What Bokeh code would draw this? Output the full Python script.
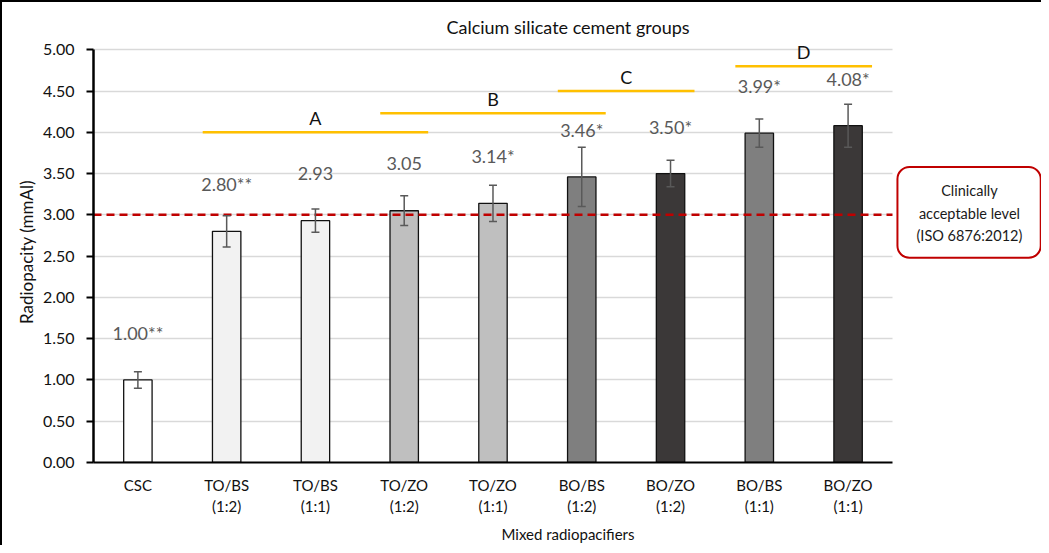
from bokeh.plotting import figure
from bokeh.models import (ColumnDataSource, Whisker, TeeHead, FixedTicker,
                          BoxAnnotation, Range1d, PrintfTickFormatter)
from bokeh.core.properties import value
from bokeh.embed import file_html
from bokeh.resources import INLINE

# ---- data ----
categories = ["CSC", "TO/BS\n(1:2)", "TO/BS\n(1:1)", "TO/ZO\n(1:2)", "TO/ZO\n(1:1)",
              "BO/BS\n(1:2)", "BO/ZO\n(1:2)", "BO/BS\n(1:1)", "BO/ZO\n(1:1)"]
values = [1.00, 2.80, 2.93, 3.05, 3.14, 3.46, 3.50, 3.99, 4.08]
errors = [0.10, 0.19, 0.14, 0.18, 0.22, 0.36, 0.16, 0.17, 0.26]
value_labels = ["1.00**", "2.80**", "2.93", "3.05", "3.14*", "3.46*", "3.50*", "3.99*", "4.08*"]
group_names = ["A", "B", "C", "D"]
group_first = [1, 3, 5, 7]
group_last = [3, 5, 6, 8]
group_level = [4.00, 4.23, 4.50, 4.80]
threshold = 3.00
y_ticks = [0, 0.5, 1.0, 1.5, 2.0, 2.5, 3.0, 3.5, 4.0, 4.5, 5.0]
callout_lines = ["Clinically", "acceptable level", "(ISO 6876:2012)"]

# ---- styles ----
bar_colors = ["#FFFFFF", "#F2F2F2", "#F2F2F2", "#BFBFBF", "#BFBFBF",
              "#7F7F7F", "#3B3838", "#7F7F7F", "#3B3838"]
FONT = "Lato"

n = len(categories)
xs = list(range(n))
src = ColumnDataSource(dict(
    x=xs, top=values, color=bar_colors, label=value_labels,
    upper=[v + e for v, e in zip(values, errors)],
    lower=[v - e for v, e in zip(values, errors)],
))

p = figure(width=1041, height=545, output_backend="svg", toolbar_location=None,
           x_range=Range1d(-0.5, 10.19), y_range=Range1d(0, 5.1),
           title="Calcium silicate cement groups",
           min_border_left=91, min_border_right=1, min_border_top=39, min_border_bottom=85)
p.styles = {"border-top": "2px solid #000", "border-left": "2px solid #000"}
p.outline_line_color = None
p.background_fill_color = "white"
p.border_fill_color = "white"

p.title.align = "center"
p.title.text_font = FONT
p.title.text_font_size = "18px"
p.title.text_font_style = "normal"
p.title.text_color = "#111111"
p.title.standoff = 8

# grid
p.xgrid.visible = False
p.ygrid.grid_line_color = "#D9D9D9"
p.ygrid.grid_line_width = 1.5
p.ygrid.ticker = FixedTicker(ticks=y_ticks)
p.ygrid.cross_bounds = (-0.5, n - 0.5)

# y axis
p.yaxis.ticker = FixedTicker(ticks=y_ticks)
p.yaxis.bounds = (0, 5)
p.yaxis.formatter = PrintfTickFormatter(format="%.2f")
p.yaxis.axis_line_width = 2.5
p.yaxis.axis_line_color = "black"
p.yaxis.major_tick_out = 7
p.yaxis.major_tick_in = 0
p.yaxis.major_tick_line_width = 2
p.yaxis.minor_tick_line_color = None
p.yaxis.major_label_text_font = FONT
p.yaxis.major_label_text_font_size = "16px"
p.yaxis.major_label_text_color = "#111111"
p.yaxis.major_label_standoff = 12
p.yaxis.axis_label = "Radiopacity (mmAl)"
p.yaxis.axis_label_text_font = FONT
p.yaxis.axis_label_text_font_size = "17px"
p.yaxis.axis_label_text_font_style = "normal"
p.yaxis.axis_label_text_color = "#111111"
p.yaxis.axis_label_standoff = 3

# x axis
p.xaxis.ticker = FixedTicker(ticks=xs)
p.xaxis.bounds = (-0.5, n - 0.5)
p.xaxis.major_label_overrides = {i: c for i, c in zip(xs, categories)}
p.xaxis.axis_line_width = 2
p.xaxis.axis_line_color = "black"
p.xaxis.major_tick_out = 0
p.xaxis.major_tick_in = 0
p.xaxis.minor_tick_line_color = None
p.xaxis.major_label_text_font = FONT
p.xaxis.major_label_text_font_size = "15px"
p.xaxis.major_label_text_color = "#111111"
p.xaxis.major_label_standoff = 13
p.xaxis.axis_label = "Mixed radiopacifiers"
p.xaxis.axis_label_text_font = FONT
p.xaxis.axis_label_text_font_size = "15px"
p.xaxis.axis_label_text_font_style = "normal"
p.xaxis.axis_label_text_color = "#111111"
p.xaxis.axis_label_standoff = 7

# bars
p.vbar(x="x", top="top", width=0.32, source=src, fill_color="color",
       line_color="#111111", line_width=1.3)

# error bars
p.add_layout(Whisker(source=src, base="x", upper="upper", lower="lower",
                     line_color="#595959", line_width=1.5, level="overlay",
                     upper_head=TeeHead(size=8, line_color="#595959", line_width=1.5),
                     lower_head=TeeHead(size=8, line_color="#595959", line_width=1.5)))

# value labels
p.text(x="x", y="top", text="label", source=src, text_align="center",
       text_baseline="middle", y_offset=-47, text_font=value(FONT),
       text_font_size="18px", text_color="#595959")

# threshold line (across the category area only)
p.segment(x0=[-0.5], y0=[threshold], x1=[n - 0.5], y1=[threshold],
          line_color="#C00000", line_width=2.5, line_dash="8 5")

# group bars
gx0 = [f - 0.27 for f in group_first]
gx1 = [l + 0.27 for l in group_last]
p.segment(x0=gx0, y0=group_level, x1=gx1, y1=group_level, line_color="#FFC000", line_width=2.5)
p.text(x=[(f + l) / 2 for f, l in zip(group_first, group_last)], y=group_level,
       text=group_names, text_align="center", text_baseline="middle", y_offset=-14,
       text_font=value(FONT), text_font_size="18px", text_color="#111111")

# callout
p.add_layout(BoxAnnotation(left=8.556, right=10.17, bottom=2.48, top=3.58,
                           fill_color=None, line_color="#C00000", line_alpha=1.0,
                           line_width=2, border_radius=12))
p.text(x=[9.367] * 3, y=[3.29, 3.02, 2.75], text=callout_lines, text_align="center",
       text_baseline="middle", text_font=value(FONT), text_font_size="14.5px",
       text_color="#1a1a1a")

open("out.html", "w").write(file_html(p, INLINE))
